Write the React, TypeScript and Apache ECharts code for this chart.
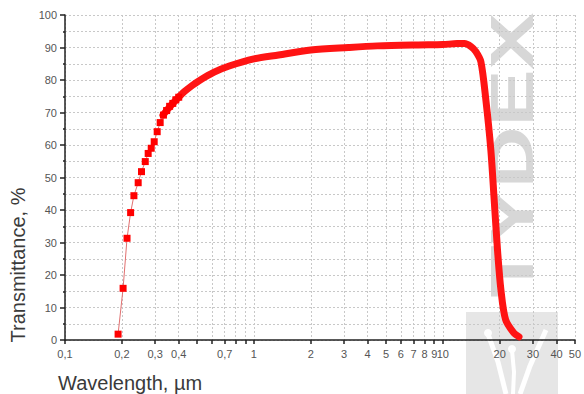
import React, { useEffect, useRef } from "react";
import * as echarts from "echarts";

// UV absorption edge: sparse measured points (square markers)
const uvWavelength = [0.191, 0.203, 0.213, 0.2225, 0.2316, 0.244, 0.254, 0.266, 0.2756, 0.286, 0.2966, 0.3076, 0.319, 0.332, 0.345, 0.358, 0.372, 0.386, 0.4];
const uvTransmittance = [1.8, 15.9, 31.3, 39.2, 44.4, 48.4, 51.8, 54.9, 57.4, 59.0, 61.0, 64.1, 66.9, 69.2, 70.6, 71.9, 72.8, 73.9, 74.7];

// Dense part of the spectrum (drawn as a thick line)
const curveWavelength = [0.33, 0.35, 0.372, 0.395, 0.428, 0.473, 0.513, 0.616, 0.74, 1.0, 1.35, 2.0, 3.16, 4.5, 7.4, 10, 11.9, 13.0, 14.1, 14.96, 15.9, 16.9, 17.95, 18.7, 19.47, 20.3, 21.5, 23.8, 25.3];
const curveTransmittance = [69.2, 71, 72.8, 74.4, 76.4, 78.4, 79.8, 82.4, 84.3, 86.5, 87.7, 89.2, 90, 90.5, 90.8, 90.9, 91.2, 91.2, 90.3, 88.7, 85.6, 73.8, 58.5, 43.1, 27.7, 15.4, 6.2, 2.1, 1.0];

const xTickValues = [0.1, 0.2, 0.3, 0.4, 0.5, 0.6, 0.7, 0.8, 0.9, 1, 2, 3, 4, 5, 6, 7, 8, 9, 10, 20, 30, 40, 50];
const xLabelValues = [0.1, 0.2, 0.3, 0.4, 0.7, 1, 2, 3, 4, 5, 6, 7, 8, 9, 10, 20, 30, 40, 50];

const xName = "Wavelength, µm";
const yName = "Transmittance, %";
const watermark = "TYDEX";

export default function App() {
  const ref = useRef<HTMLDivElement>(null);
  useEffect(() => {
    if (!ref.current) return;
    const chart = echarts.init(ref.current, null, { renderer: "svg" });
    const fmt = (v: number) => String(Number(Number(v).toPrecision(3))).replace(".", ",");
    const option: any = {
      animation: false,
      backgroundColor: "#ffffff",
      grid: { left: 65, right: 6, top: 15, bottom: 54 },
      xAxis: {
        type: "log",
        logBase: 10,
        min: 0.1,
        max: 50,
        z: 3,
        axisLine: { show: true, onZero: false, lineStyle: { color: "#222", width: 1.5 } },
        axisTick: { show: true, length: 4, customValues: xTickValues, lineStyle: { color: "#222", width: 1.5 } },
        axisLabel: {
          show: true,
          customValues: xLabelValues,
          formatter: fmt,
          color: "#555",
          fontSize: 11,
          fontFamily: "Liberation Sans, Arial, sans-serif",
          margin: 8,
          hideOverlap: false,
        },
        splitLine: { show: true, lineStyle: { color: "#c8c8c8", type: [2, 2], width: 1 } },
        minorTick: { show: false },
        minorSplitLine: { show: false },
      },
      yAxis: {
        type: "value",
        min: 0,
        max: 100,
        interval: 10,
        z: 3,
        axisLine: { show: true, onZero: false, lineStyle: { color: "#222", width: 1.5 } },
        axisTick: { show: true, inside: false, length: 5, lineStyle: { color: "#222", width: 1.5 } },
        minorTick: { show: true, splitNumber: 2, length: 2, lineStyle: { color: "#222", width: 1.5 } },
        axisLabel: {
          color: "#555",
          fontSize: 11,
          fontFamily: "Liberation Sans, Arial, sans-serif",
          margin: 8,
        },
        splitLine: { show: true, lineStyle: { color: "#c8c8c8", type: [2, 2], width: 1 } },
        minorSplitLine: { show: true, lineStyle: { color: "#c8c8c8", type: [2, 2], width: 1 } },
      },
      graphic: {
        elements: [
          {
            type: "group",
            z: -10,
            silent: true,
            children: [
              {
                type: "rect",
                z: -10,
                shape: { x: 466, y: 312, width: 92, height: 82 },
                style: { fill: "#e6e6e6" },
              },
              {
                type: "polyline",
                z: -9,
                shape: { points: [[488, 334], [498, 362], [506, 394]] },
                style: { stroke: "#ffffff", lineWidth: 5, fill: "none" },
              },
              {
                type: "polyline",
                z: -9,
                shape: { points: [[546, 330], [530, 366], [520, 394]] },
                style: { stroke: "#ffffff", lineWidth: 5, fill: "none" },
              },
              {
                type: "polyline",
                z: -9,
                shape: { points: [[512, 350], [514, 372], [513, 394]] },
                style: { stroke: "#ffffff", lineWidth: 4, fill: "none" },
              },
              { type: "circle", z: -9, shape: { cx: 488, cy: 333, r: 4 }, style: { fill: "#ffffff" } },
              { type: "circle", z: -9, shape: { cx: 512, cy: 349, r: 4 }, style: { fill: "#ffffff" } },
              {
                type: "text",
                z: -9,
                x: 511,
                y: 155,
                rotation: Math.PI / 2,
                scaleX: 1.38,
                scaleY: 1,
                style: {
                  text: watermark,
                  fill: "rgba(175,175,175,0.5)",
                  font: "bold 62px 'Liberation Sans', Arial, sans-serif",
                  align: "center",
                  verticalAlign: "middle",
                },
              },
            ],
          },
          {
            type: "text",
            x: 18,
            y: 265,
            rotation: Math.PI / 2,
            style: {
              text: yName,
              fill: "#3a3a3a",
              font: "20px 'Liberation Sans', Arial, sans-serif",
              align: "center",
              verticalAlign: "middle",
            },
          },
          {
            type: "text",
            x: 58,
            y: 383,
            style: {
              text: xName,
              fill: "#3a3a3a",
              font: "20px 'Liberation Sans', Arial, sans-serif",
              align: "left",
              verticalAlign: "middle",
            },
          },
        ],
      },
      series: [
        {
          type: "line",
          name: "curve",
          data: curveWavelength.map((w, i) => [w, curveTransmittance[i]]),
          showSymbol: false,
          smooth: 0.3,
          z: 5,
          lineStyle: { color: "#ff1414", width: 7, cap: "round", join: "round" },
        },
        {
          type: "line",
          name: "uv",
          data: uvWavelength.map((w, i) => [w, uvTransmittance[i]]),
          symbol: "rect",
          symbolSize: 7,
          showSymbol: true,
          z: 6,
          itemStyle: { color: "#ff0000" },
          lineStyle: { color: "#e07070", width: 1 },
        },
      ],
    };
    chart.setOption(option);
    return () => chart.dispose();
  }, []);
  return <div ref={ref} style={{ width: 584, height: 394, position: "absolute", left: 0, top: 0 }} />;
}
